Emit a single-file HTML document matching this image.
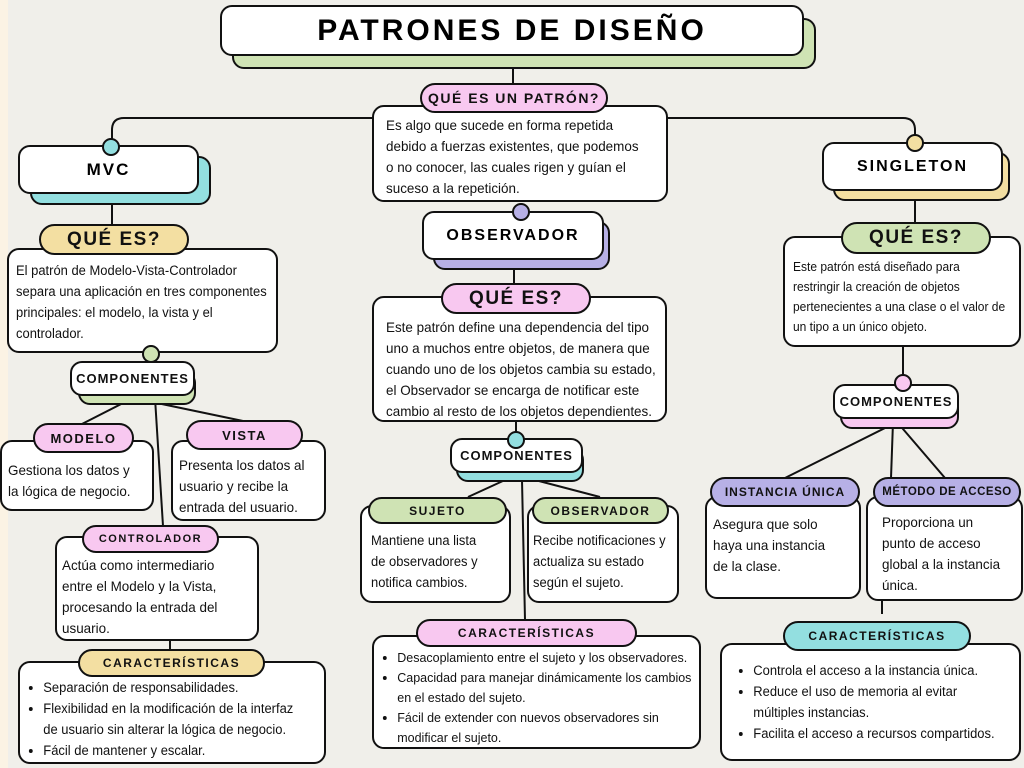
<!DOCTYPE html>
<html><head><meta charset="utf-8"><style>
*{margin:0;padding:0;box-sizing:border-box}
body{width:1024px;height:768px;background:#f0efea;position:relative;overflow:hidden;font-family:"Liberation Sans",sans-serif}
.b{position:absolute;background:#fff;border:2px solid #111;border-radius:12px}
.s{position:absolute;border:2px solid #111;border-radius:12px}
.p{position:absolute;border:2px solid #111;border-radius:16px;font-family:"Liberation Sans",sans-serif;font-weight:bold;text-align:center;letter-spacing:1.5px;color:#111;display:flex;align-items:center;justify-content:center}
.t{position:absolute;font-size:14px;line-height:21px;color:#111;transform:scaleX(.96);transform-origin:0 0;white-space:nowrap}
.c{position:absolute;width:18px;height:18px;border-radius:50%;border:2px solid #111}
ul{padding-left:18px}
svg{position:absolute;left:0;top:0}
</style></head><body>
<div style="position:absolute;left:0;top:0;width:8px;height:768px;background:#fbf3e4"></div>
<svg width="1024" height="768"><g stroke="#111" stroke-width="2" fill="none">
<path d="M513 55V84"/><path d="M372 118H124Q112 118 112 130V147"/><path d="M667 118H903Q915 118 915 130V143"/>
<path d="M112 193V226"/><path d="M133 398L80 425M133 398L243 421M155 398L163 526"/><path d="M170 640V651"/>
<path d="M514 259V284"/><path d="M516 421V440"/><path d="M516 475L468 497M516 475L600 497M522 480L525 620"/>
<path d="M915 200V224"/><path d="M903 346V378"/><path d="M897 422L785 478M893 422L891 478M897 422L945 478"/><path d="M882 600V614"/>
</g></svg>

<!-- title -->
<div class="s" style="left:232px;top:18px;width:584px;height:51px;background:#cfe3b4"></div>
<div class="b" style="left:220px;top:5px;width:584px;height:51px;display:flex;align-items:center;justify-content:center;font-weight:bold;font-size:30px;letter-spacing:3px">PATRONES DE DISEÑO</div>

<div class="b" style="left:372px;top:105px;width:296px;height:97px"></div>
<div class="p" style="left:420px;top:83px;width:188px;height:30px;background:#f8c8f0;font-size:14px">QUÉ ES UN PATRÓN?</div>
<div class="t" style="left:386px;top:115px">Es algo que sucede en forma repetida<br>debido a fuerzas existentes, que podemos<br>o no conocer, las cuales rigen y guían el<br>suceso a la repetición.</div>

<!-- MVC -->
<div class="s" style="left:30px;top:156px;width:181px;height:49px;background:#93dfe0"></div>
<div class="b" style="left:18px;top:145px;width:181px;height:49px;display:flex;align-items:center;justify-content:center;font-weight:bold;font-size:17px;letter-spacing:2px">MVC</div>
<div class="c" style="left:102px;top:138px;background:#93dfe0"></div>
<div class="b" style="left:7px;top:248px;width:271px;height:105px"></div>
<div class="p" style="left:39px;top:224px;width:150px;height:31px;background:#f3dfa2;font-size:19px">QUÉ ES?</div>
<div class="t" style="left:16px;top:260px;font-size:13.5px">El patrón de Modelo-Vista-Controlador<br>separa una aplicación en tres componentes<br>principales: el modelo, la vista y el<br>controlador.</div>
<div class="c" style="left:142px;top:345px;background:#cfe3b4"></div>
<div class="s" style="left:78px;top:371px;width:118px;height:34px;background:#cfe3b4"></div>
<div class="p" style="left:70px;top:361px;width:125px;height:35px;background:#fff;font-size:13px;border-radius:12px;letter-spacing:1px">COMPONENTES</div>
<div class="b" style="left:0px;top:440px;width:154px;height:71px"></div>
<div class="p" style="left:33px;top:423px;width:101px;height:30px;background:#f8c8f0;font-size:13px">MODELO</div>
<div class="t" style="left:8px;top:460px">Gestiona los datos y<br>la lógica de negocio.</div>
<div class="b" style="left:171px;top:440px;width:155px;height:81px"></div>
<div class="p" style="left:186px;top:420px;width:117px;height:30px;background:#f8c8f0;font-size:13px">VISTA</div>
<div class="t" style="left:179px;top:455px">Presenta los datos al<br>usuario y recibe la<br>entrada del usuario.</div>
<div class="b" style="left:55px;top:536px;width:204px;height:105px"></div>
<div class="p" style="left:82px;top:525px;width:137px;height:28px;background:#f8c8f0;font-size:11px">CONTROLADOR</div>
<div class="t" style="left:62px;top:555px">Actúa como intermediario<br>entre el Modelo y la Vista,<br>procesando la entrada del<br>usuario.</div>
<div class="b" style="left:18px;top:661px;width:308px;height:103px"></div>
<div class="p" style="left:78px;top:649px;width:187px;height:28px;background:#f3dfa2;font-size:12px">CARACTERÍSTICAS</div>
<div class="t" style="left:26px;top:677px;font-size:13.5px"><ul><li>Separación de responsabilidades.</li><li>Flexibilidad en la modificación de la interfaz<br>de usuario sin alterar la lógica de negocio.</li><li>Fácil de mantener y escalar.</li></ul></div>

<!-- Observador -->
<div class="s" style="left:433px;top:221px;width:177px;height:49px;background:#b7b0e6"></div>
<div class="b" style="left:422px;top:211px;width:182px;height:49px;display:flex;align-items:center;justify-content:center;font-weight:bold;font-size:16px;letter-spacing:2px">OBSERVADOR</div>
<div class="c" style="left:512px;top:203px;background:#b7b0e6"></div>
<div class="b" style="left:372px;top:296px;width:295px;height:126px"></div>
<div class="p" style="left:441px;top:283px;width:150px;height:31px;background:#f8c8f0;font-size:19px">QUÉ ES?</div>
<div class="t" style="left:386px;top:317px">Este patrón define una dependencia del tipo<br>uno a muchos entre objetos, de manera que<br>cuando uno de los objetos cambia su estado,<br>el Observador se encarga de notificar este<br>cambio al resto de los objetos dependientes.</div>
<div class="s" style="left:456px;top:448px;width:128px;height:34px;background:#93dfe0"></div>
<div class="p" style="left:450px;top:438px;width:133px;height:35px;background:#fff;font-size:13px;border-radius:12px;letter-spacing:1px">COMPONENTES</div>
<div class="c" style="left:507px;top:431px;background:#93dfe0"></div>
<div class="b" style="left:360px;top:505px;width:151px;height:98px"></div>
<div class="p" style="left:368px;top:497px;width:139px;height:27px;background:#cfe3b4;font-size:12px">SUJETO</div>
<div class="t" style="left:371px;top:530px;font-size:13.5px">Mantiene una lista<br>de observadores y<br>notifica cambios.</div>
<div class="b" style="left:527px;top:505px;width:152px;height:98px"></div>
<div class="p" style="left:532px;top:497px;width:137px;height:27px;background:#cfe3b4;font-size:12px">OBSERVADOR</div>
<div class="t" style="left:533px;top:530px;font-size:13.5px">Recibe notificaciones y<br>actualiza su estado<br>según el sujeto.</div>
<div class="b" style="left:372px;top:635px;width:329px;height:114px"></div>
<div class="p" style="left:416px;top:619px;width:221px;height:28px;background:#f8c8f0;font-size:12px">CARACTERÍSTICAS</div>
<div class="t" style="left:380px;top:648px;font-size:13px;line-height:20px"><ul><li>Desacoplamiento entre el sujeto y los observadores.</li><li>Capacidad para manejar dinámicamente los cambios<br>en el estado del sujeto.</li><li>Fácil de extender con nuevos observadores sin<br>modificar el sujeto.</li></ul></div>

<!-- Singleton -->
<div class="s" style="left:833px;top:152px;width:177px;height:49px;background:#f3dfa2"></div>
<div class="b" style="left:822px;top:142px;width:181px;height:49px;display:flex;align-items:center;justify-content:center;font-weight:bold;font-size:16px;letter-spacing:2px">SINGLETON</div>
<div class="c" style="left:906px;top:134px;background:#f3dfa2"></div>
<div class="b" style="left:783px;top:236px;width:238px;height:111px"></div>
<div class="p" style="left:841px;top:222px;width:150px;height:32px;background:#cfe3b4;font-size:19px">QUÉ ES?</div>
<div class="t" style="left:793px;top:257px;font-size:12.5px;line-height:20px">Este patrón está diseñado para<br>restringir la creación de objetos<br>pertenecientes a una clase o el valor de<br>un tipo a un único objeto.</div>
<div class="s" style="left:840px;top:395px;width:119px;height:34px;background:#f8c8f0"></div>
<div class="p" style="left:833px;top:384px;width:126px;height:35px;background:#fff;font-size:13px;border-radius:12px;letter-spacing:1px">COMPONENTES</div>
<div class="c" style="left:894px;top:374px;background:#f8c8f0"></div>
<div class="b" style="left:705px;top:496px;width:156px;height:103px"></div>
<div class="p" style="left:710px;top:477px;width:150px;height:30px;background:#b7b0e6;font-size:12px;letter-spacing:1px">INSTANCIA ÚNICA</div>
<div class="t" style="left:713px;top:514px">Asegura que solo<br>haya una instancia<br>de la clase.</div>
<div class="b" style="left:866px;top:496px;width:157px;height:105px"></div>
<div class="p" style="left:873px;top:477px;width:148px;height:30px;background:#b7b0e6;font-size:11.5px;letter-spacing:.5px">MÉTODO DE ACCESO</div>
<div class="t" style="left:882px;top:512px">Proporciona un<br>punto de acceso<br>global a la instancia<br>única.</div>
<div class="b" style="left:720px;top:643px;width:301px;height:118px"></div>
<div class="p" style="left:783px;top:621px;width:188px;height:30px;background:#93dfe0;font-size:12px">CARACTERÍSTICAS</div>
<div class="t" style="left:736px;top:660px;font-size:13.5px"><ul><li>Controla el acceso a la instancia única.</li><li>Reduce el uso de memoria al evitar<br>múltiples instancias.</li><li>Facilita el acceso a recursos compartidos.</li></ul></div>
</body></html>
